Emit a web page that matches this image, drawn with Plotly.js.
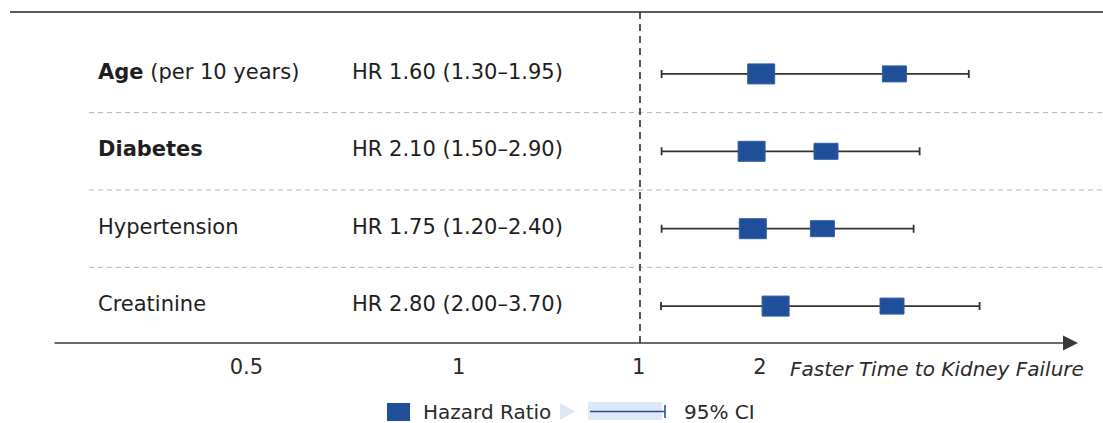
<!DOCTYPE html>
<html>
<head>
<meta charset="utf-8">
<script src="https://cdn.plot.ly/plotly-3.0.1.min.js"></script>
<style>
  html, body { margin: 0; padding: 0; background: #ffffff; }
  #chart { width: 1103px; height: 423px; }
</style>
</head>
<body>
<div id="chart"></div>
<script>
// ---------------- DATA ----------------
const categories   = ['Age', 'Diabetes', 'Hypertension', 'Creatinine'];
const qualifiers   = ['(per 10 years)', '', '', ''];
const boldRows     = [true, true, false, false];
const hrValues     = [1.60, 2.10, 1.75, 2.80];
const hrLower      = [1.30, 1.50, 1.20, 2.00];
const hrUpper      = [1.95, 2.90, 2.40, 3.70];
// plotted positions as drawn in the figure (axis units of the drawing)
const markerMain   = [2.01, 1.93, 1.94, 2.13];
const markerSecond = [3.12, 2.55, 2.52, 3.10];
const ciDrawnLow   = [1.18, 1.18, 1.18, 1.175];
const ciDrawnHigh  = [3.74, 3.33, 3.28, 3.83];
const tickLabels   = ['0.5', '1', '1', '2'];
const tickVals     = [-2.28, -0.51, 0.99, 2.0];
const refValue     = 1;
const axisTitle    = 'Faster Time to Kidney Failure';
const legendLabels = ['Hazard Ratio', '95% CI'];

// ---------------- STYLE / LAYOUT CONSTANTS ----------------
const W = 1103, H = 423, MB = 80;
const plotH = H - MB;
const FONT = 'DejaVu Sans';
const SQ_BLUE = '#1f4f98';
const TXT = '#1e1e1e';
const rows = categories.map((_, i) => i);
const px = p => p / W;                 // pixel x -> paper
const py = p => (plotH - p) / plotH;   // pixel y -> paper

// ---------------- TRACES ----------------
const ciTrace = {
  type: 'scatter', mode: 'markers',
  x: markerMain, y: rows,
  marker: { size: 1, opacity: 0 },
  error_x: {
    type: 'data', symmetric: false,
    array: ciDrawnHigh.map((h, i) => h - markerMain[i]),
    arrayminus: ciDrawnLow.map((l, i) => markerMain[i] - l),
    color: '#333333', thickness: 1.8, width: 4
  },
  hoverinfo: 'skip', showlegend: false
};

// ---------------- SHAPES ----------------
const shapes = [];
// top rule
shapes.push({ type: 'line', xref: 'paper', yref: 'paper', x0: px(10), x1: 1, y0: py(12), y1: py(12),
  line: { color: '#5a5a5a', width: 2 } });
// row separators
[0.5, 1.5, 2.5].forEach(v => shapes.push({ type: 'line', xref: 'paper', yref: 'y', x0: px(89), x1: 1, y0: v, y1: v,
  line: { color: '#b5b5b5', width: 1, dash: '5px,4px' } }));
// reference line at 1
shapes.push({ type: 'line', xref: 'x', yref: 'paper', x0: refValue, x1: refValue, y0: 0, y1: py(12),
  line: { color: '#444', width: 1.8, dash: '7px,5px' } });
// hazard-ratio squares
rows.forEach(i => {
  shapes.push({ type: 'rect', xref: 'x', yref: 'y', xsizemode: 'pixel', ysizemode: 'pixel',
    xanchor: markerMain[i], x0: -13.5, x1: 13.5, yanchor: i, y0: -10, y1: 10,
    fillcolor: SQ_BLUE, line: { color: '#2e5fa8', width: 1 } });
  shapes.push({ type: 'rect', xref: 'x', yref: 'y', xsizemode: 'pixel', ysizemode: 'pixel',
    xanchor: markerSecond[i], x0: -12, x1: 12, yanchor: i, y0: -8, y1: 8,
    fillcolor: SQ_BLUE, line: { color: '#2e5fa8', width: 1 } });
});
// legend glyphs
shapes.push({ type: 'rect', xref: 'paper', yref: 'paper', x0: px(387), x1: px(410), y0: py(403), y1: py(421),
  fillcolor: SQ_BLUE, line: { width: 0 } });
shapes.push({ type: 'path', xref: 'paper', yref: 'paper',
  path: `M ${px(560)} ${py(403)} L ${px(575)} ${py(411.5)} L ${px(560)} ${py(420)} Z`,
  fillcolor: '#dde6f4', line: { width: 0 } });
shapes.push({ type: 'rect', xref: 'paper', yref: 'paper', x0: px(588), x1: px(662), y0: py(402), y1: py(420),
  fillcolor: '#dfe8f6', line: { width: 0 } });
shapes.push({ type: 'line', xref: 'paper', yref: 'paper', x0: px(590), x1: px(665), y0: py(411.5), y1: py(411.5),
  line: { color: '#2b4f8f', width: 1.6 } });
shapes.push({ type: 'line', xref: 'paper', yref: 'paper', x0: px(665), x1: px(665), y0: py(405), y1: py(418),
  line: { color: '#2b4f8f', width: 1.6 } });

// ---------------- ANNOTATIONS ----------------
const annotations = [];
rows.forEach(i => {
  const name = boldRows[i] ? `<b>${categories[i]}</b>` : categories[i];
  annotations.push({ xref: 'paper', yref: 'y', x: px(96), y: i, xanchor: 'left', yanchor: 'middle', yshift: 2,
    text: qualifiers[i] ? `${name} ${qualifiers[i]}` : name, showarrow: false,
    font: { family: FONT, size: 21, color: TXT } });
  annotations.push({ xref: 'paper', yref: 'y', x: px(350), y: i, xanchor: 'left', yanchor: 'middle', yshift: 2,
    text: `HR ${hrValues[i].toFixed(2)} (${hrLower[i].toFixed(2)}–${hrUpper[i].toFixed(2)})`, showarrow: false,
    font: { family: FONT, size: 21, color: TXT } });
});
// axis arrow
annotations.push({ xref: 'x domain', yref: 'y domain', axref: 'x domain', ayref: 'y domain',
  x: px(1078), y: 0, ax: px(53), ay: 0, text: '', showarrow: true,
  arrowhead: 2, arrowsize: 2, arrowwidth: 1.5, arrowcolor: '#3a3a3a', standoff: 0 });
// axis caption
annotations.push({ xref: 'paper', yref: 'paper', x: px(788), y: py(369), xanchor: 'left', yanchor: 'middle',
  text: axisTitle, showarrow: false, font: { family: FONT, size: 20, color: '#2a2a2a', style: 'italic' } });
// legend labels
annotations.push({ xref: 'paper', yref: 'paper', x: px(421), y: py(411.5), xanchor: 'left', yanchor: 'middle',
  text: legendLabels[0], showarrow: false, font: { family: FONT, size: 20, color: '#2a2a2a' } });
annotations.push({ xref: 'paper', yref: 'paper', x: px(682), y: py(411.5), xanchor: 'left', yanchor: 'middle',
  text: legendLabels[1], showarrow: false, font: { family: FONT, size: 20, color: '#2a2a2a' } });

// ---------------- LAYOUT ----------------
const layout = {
  width: W, height: H,
  margin: { l: 0, r: 0, t: 0, b: MB, pad: 0 },
  paper_bgcolor: '#ffffff', plot_bgcolor: '#ffffff',
  showlegend: false,
  xaxis: {
    range: [1 - 640 / 120, 1 + (W - 640) / 120],
    tickvals: tickVals, ticktext: tickLabels,
    ticks: '', showgrid: false, zeroline: false, showline: false,
    ticklabelstandoff: 9,
    tickfont: { family: FONT, size: 21, color: '#2a2a2a' },
    fixedrange: true
  },
  yaxis: {
    range: [3.477, -0.955],
    showticklabels: false, ticks: '', showgrid: false, zeroline: false, showline: false,
    fixedrange: true
  },
  shapes: shapes,
  annotations: annotations
};

Plotly.newPlot('chart', [ciTrace], layout, { displayModeBar: false, staticPlot: true });
</script>
</body>
</html>
